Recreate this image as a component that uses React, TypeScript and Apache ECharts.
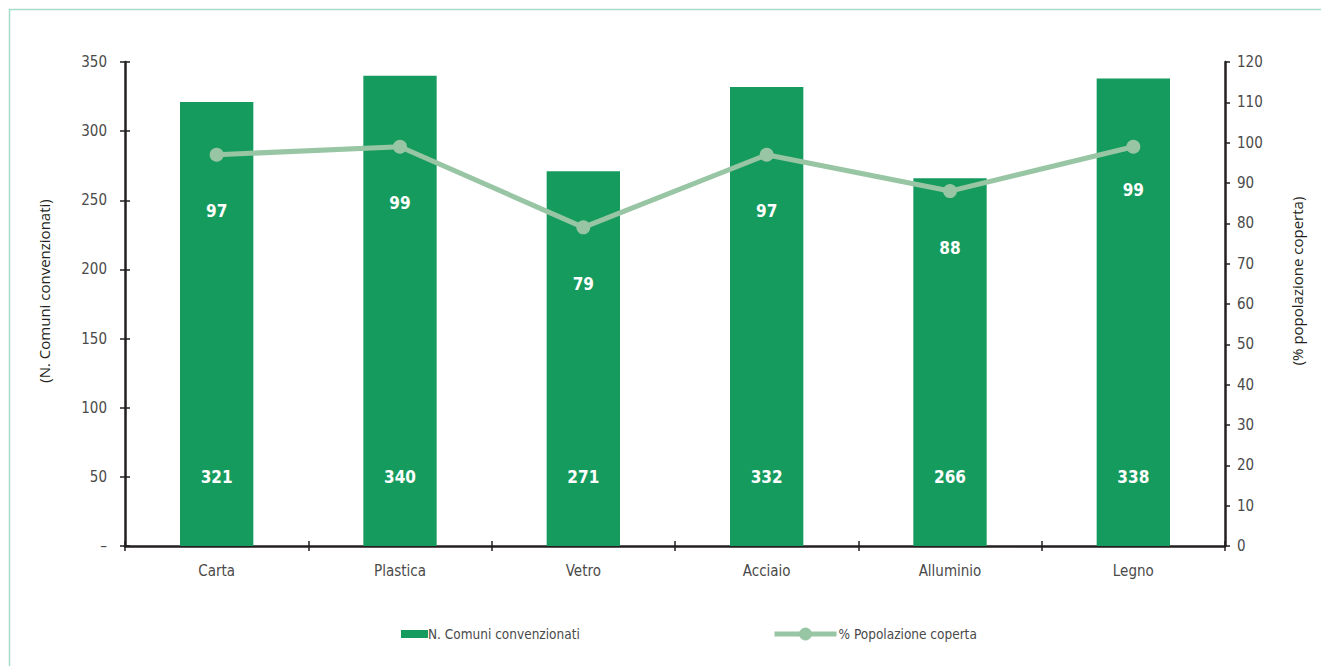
import React, { useEffect, useRef } from "react";
import * as echarts from "echarts";

const categories = ["Carta", "Plastica", "Vetro", "Acciaio", "Alluminio", "Legno"];
const comuni = [321, 340, 271, 332, 266, 338];
const popolazione = [97, 99, 79, 97, 88, 99];
const leftTicks = [0, 50, 100, 150, 200, 250, 300, 350];

const FONT = "'DejaVu Sans Condensed', 'Liberation Sans Narrow', 'Liberation Sans', sans-serif";
const NAME_FONT = "'Open Sans', 'Noto Sans', sans-serif";
const BAR_COLOR = "#169b5e";
const LINE_COLOR = "#98c5a3";
const AXIS_COLOR = "#231f20";
const TEXT_COLOR = "#4a4a4a";

export default function App() {
  const ref = useRef<HTMLDivElement>(null);
  useEffect(() => {
    if (!ref.current) return;
    const chart = echarts.init(ref.current, undefined, { renderer: "svg" });
    const axisLine = { show: true, lineStyle: { color: AXIS_COLOR, width: 2.5 } };
    chart.setOption({
      animation: false,
      backgroundColor: "#ffffff",
      graphic: [
        {
          type: "rect",
          shape: { x: 9.5, y: 9.5, width: 1400, height: 800 },
          style: { fill: "none", stroke: "#a6dcc6", lineWidth: 1.5 },
          silent: true,
        },
      ],
      grid: { left: 125, right: 96, top: 62, bottom: 120 },
      legend: [
        {
          left: 396,
          top: 622,
          itemWidth: 27,
          itemHeight: 8,
          itemGap: 0,
          textStyle: { fontFamily: FONT, fontSize: 13.5, color: TEXT_COLOR, padding: [0, 0, 0, -5] },
          data: [{ name: "N. Comuni convenzionati", icon: "rect" }],
        },
        {
          left: 767,
          top: 622,
          itemWidth: 62,
          itemHeight: 16,
          lineStyle: { width: 5, color: LINE_COLOR },
          textStyle: { fontFamily: FONT, fontSize: 13.5, color: TEXT_COLOR, padding: [0, 0, 0, -3] },
          data: ["% Popolazione coperta"],
        },
      ],
      xAxis: [
        {
          type: "category",
          data: categories,
          axisLine,
          axisTick: { show: true, length: 5, lineStyle: { color: AXIS_COLOR, width: 1.5 } },
          axisLabel: { fontFamily: FONT, fontSize: 15, color: TEXT_COLOR, margin: 17 },
        },
        {
          type: "category",
          data: categories,
          position: "bottom",
          axisLine: { show: false },
          axisTick: { show: true, inside: true, length: 5, lineStyle: { color: AXIS_COLOR, width: 1.5 } },
          axisLabel: { show: false },
        },
      ],
      yAxis: [
        {
          type: "value",
          min: 0,
          max: 350,
          interval: 50,
          position: "left",
          name: "(N. Comuni convenzionati)",
          nameLocation: "middle",
          nameGap: 74,
          nameTextStyle: { fontFamily: NAME_FONT, fontSize: 15, color: "#231f20", padding: [0, 0, 0, 26] },
          axisLine,
          axisTick: { show: true, length: 5, lineStyle: { color: AXIS_COLOR, width: 1.5 } },
          splitLine: { show: false },
          axisLabel: {
            fontFamily: FONT,
            fontSize: 15,
            color: TEXT_COLOR,
            margin: 18,
            formatter: (v: number) => (v === leftTicks[0] ? "–" : String(v)),
          },
        },
        {
          type: "value",
          min: 0,
          max: 120,
          interval: 10,
          position: "right",
          name: "(% popolazione coperta)",
          nameLocation: "middle",
          nameGap: 64,
          nameRotate: 90,
          nameTextStyle: { fontFamily: NAME_FONT, fontSize: 15, color: "#231f20", padding: [0, 0, 0, 46] },
          axisLine,
          axisTick: { show: true, length: 5, lineStyle: { color: AXIS_COLOR, width: 1.5 } },
          splitLine: { show: false },
          axisLabel: { fontFamily: FONT, fontSize: 15, color: TEXT_COLOR, margin: 12 },
        },
        {
          type: "value",
          min: 0,
          max: 350,
          interval: 50,
          position: "left",
          axisLine: { show: false },
          axisTick: { show: true, inside: true, length: 5, lineStyle: { color: AXIS_COLOR, width: 1.5 } },
          axisLabel: { show: false },
          splitLine: { show: false },
        },
      ],
      series: [
        {
          name: "N. Comuni convenzionati",
          type: "bar",
          data: comuni,
          barWidth: "40%",
          itemStyle: { color: BAR_COLOR },
          label: {
            show: true,
            position: "insideBottom",
            distance: 61,
            fontFamily: FONT,
            fontSize: 17,
            fontWeight: "bold",
            color: "#ffffff",
          },
        },
        {
          name: "% Popolazione coperta",
          type: "line",
          yAxisIndex: 1,
          data: popolazione.map((v, i) =>
            i === popolazione.length - 1 ? { value: v, label: { distance: 28 } } : v
          ),
          symbol: "circle",
          symbolSize: 14,
          lineStyle: { color: LINE_COLOR, width: 5 },
          itemStyle: { color: LINE_COLOR },
          label: {
            show: true,
            position: "bottom",
            distance: 41,
            fontFamily: FONT,
            fontSize: 17,
            fontWeight: "bold",
            color: "#ffffff",
          },
        },
      ],
    });
    return () => chart.dispose();
  }, []);
  return (
    <div
      ref={ref}
      style={{ position: "fixed", left: 0, top: 0, width: 1321, height: 666 }}
    />
  );
}
